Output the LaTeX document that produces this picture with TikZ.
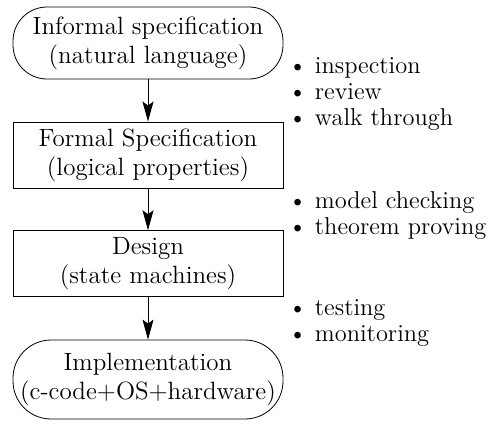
\documentclass[tikz,border=0pt]{standalone}
\usepackage{tikz}
\usetikzlibrary{arrows.meta}
\tikzset{
stage/.style={
  align=center,
  draw=black,
  fill=white,
  minimum width=135pt,
  font=\fontsize{12.5}{14.5}\selectfont
  }
}
\tikzset{
terminal/.style={
  stage,
  rounded corners=17pt
  }
}
\tikzset{
methods/.style={
  align=left,
  anchor=west,
  inner sep=0pt,
  font=\fontsize{12.2}{13}\selectfont
  }
}
\tikzstyle{flow} = [draw,-{Stealth[length=10pt,width=5.5pt,inset=2pt]}]
\tikzset{%
    boundingBox/.style={use as bounding box},
    }
\begin{document}
\begin{tikzpicture}[x=0.5pt, y=-0.5pt]
        \path[boundingBox] (0,0) rectangle (488,420);
		%vertices
		\node (vinformal) at (148, 43) [terminal, minimum height=36pt] {Informal specification\\(natural language)};
		\node (vformal) at (148, 155) [stage, minimum height=32pt] {Formal Specification\\(logical properties)};
		\node (vdesign) at (148, 263.5) [stage, minimum height=31.5pt] {Design\\(state machines)};
		\node (vimpl) at (148, 379.5) [terminal, minimum height=39.5pt, rounded corners=19pt] {Implementation\\(c-code+OS+hardware)};

		\node (m0) at (288, 94) [methods] {\textbullet\ inspection\\\textbullet\ review\\\textbullet\ walk through};
		\node (m1) at (288, 216) [methods] {\textbullet\ model checking\\\textbullet\ theorem proving};
		\node (m2) at (288, 323.5) [methods] {\textbullet\ testing\\\textbullet\ monitoring};
		%edges
		\draw (vinformal) edge[flow] (vformal);
		\draw (vformal) edge[flow] (vdesign);
		\draw (vdesign) edge[flow] (vimpl);
\end{tikzpicture}
\end{document}
